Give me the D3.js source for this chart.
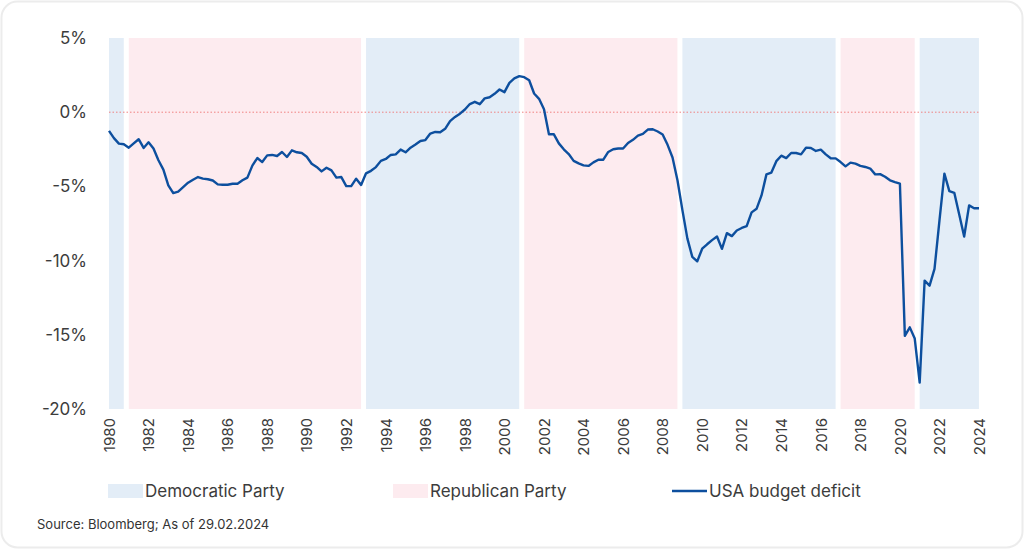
<!DOCTYPE html>
<html>
<head>
<meta charset="utf-8">
<script src="https://cdn.jsdelivr.net/npm/d3@7"></script>
<style>
  body { margin: 0; background: #ffffff; }
  text { font-family: Inter, "Noto Sans", sans-serif; }
</style>
</head>
<body>
<script>
// quarterly budget balance, % of GDP, starting 1980 Q1
let startYear = 1980;
let deficit = [
  -1.26, -1.75, -2.12, -2.16,
  -2.39, -2.10, -1.82, -2.41,
  -2.03, -2.45, -3.24, -3.87,
  -4.93, -5.45, -5.35, -5.05,
  -4.75, -4.55, -4.37, -4.48,
  -4.52, -4.60, -4.86, -4.89,
  -4.89, -4.82, -4.82, -4.59,
  -4.41, -3.60, -3.09, -3.36,
  -2.91, -2.88, -2.95, -2.68,
  -3.02, -2.57, -2.70, -2.75,
  -3.00, -3.47, -3.69, -3.99,
  -3.74, -3.92, -4.41, -4.37,
  -4.98, -4.98, -4.48, -4.90,
  -4.12, -3.95, -3.70, -3.28,
  -3.15, -2.88, -2.84, -2.52,
  -2.70, -2.39, -2.18, -1.94,
  -1.88, -1.44, -1.33, -1.35,
  -1.12, -0.60, -0.32, -0.10,
   0.18,  0.55,  0.70,  0.54,
   0.93,  1.01,  1.24,  1.53,
   1.35,  1.98,  2.28,  2.43,
   2.36,  2.15,  1.26,  0.90,
   0.20, -1.49, -1.49, -2.10,
  -2.50, -2.82, -3.28, -3.45,
  -3.58, -3.62, -3.38, -3.20,
  -3.20, -2.68, -2.50, -2.45,
  -2.45, -2.07, -1.86, -1.58,
  -1.46, -1.17, -1.15, -1.30,
  -1.50, -2.20, -3.05, -4.59,
  -6.60, -8.50, -9.75, -10.05,
  -9.20, -8.90, -8.62, -8.38,
  -9.21, -8.15, -8.35, -7.97,
  -7.80, -7.68, -6.75, -6.51,
  -5.61, -4.19, -4.07, -3.30,
  -2.93, -3.09, -2.75, -2.75,
  -2.84, -2.39, -2.41, -2.61,
  -2.52, -2.84, -3.10, -3.11,
  -3.36, -3.65, -3.40, -3.47,
  -3.62, -3.69, -3.80, -4.19,
  -4.17, -4.35, -4.59, -4.71,
  -4.82, -15.07, -14.50, -15.25,
  -18.22, -11.35, -11.69, -10.56,
  -7.30, -4.14, -5.32, -5.43,
  -6.89, -8.38, -6.28, -6.47,
  -6.47
];

// presidential terms
let termStart = [1980, 1981, 1993, 2001, 2009, 2017, 2021];
let termEnd   = [1981, 1993, 2001, 2009, 2017, 2021, 2024.25];
let termParty = ["D", "R", "D", "R", "D", "R", "D"];

let yTicks = [5, 0, -5, -10, -15, -20];
let xTicks = d3.range(1980, 2025, 2);

let legendLabels = ["Democratic Party", "Republican Party", "USA budget deficit"];
let sourceText = "Source: Bloomberg; As of 29.02.2024";

let width = 1024;
let height = 549;
let margin = ({top: 38, right: 45, bottom: 140, left: 109});

let blue = "#e3edf7";
let pink = "#fdebef";
let lineColor = "#0d4f9e";

let svg = d3.select("body")
  .append("svg")
  .attr("width", width)
  .attr("height", height);

// card
svg.append("rect")
  .attr("x", 1.5).attr("y", 1.5)
  .attr("width", width - 3).attr("height", height - 3)
  .attr("rx", 16)
  .attr("fill", "#fff")
  .attr("stroke", "#ececec")
  .attr("stroke-width", 2);

let x = d3.scaleLinear()
  .domain([1980, 2024])
  .range([margin.left, width - margin.right]);

let y = d3.scaleLinear()
  .domain([-20, 5])
  .range([height - margin.bottom, margin.top]);

// party bands
let gap = 5;
svg.append("g")
  .selectAll("rect")
  .data(termStart)
  .join("rect")
    .attr("x", d => x(d))
    .attr("y", y(5))
    .attr("width", (d, i) => x(termEnd[i]) - x(d) - gap)
    .attr("height", y(-20) - y(5))
    .attr("fill", (d, i) => termParty[i] == "D" ? blue : pink);

// zero line
svg.append("line")
  .attr("x1", x(1980)).attr("x2", x(2024))
  .attr("y1", y(0)).attr("y2", y(0))
  .attr("stroke", "#f08080")
  .attr("stroke-width", 1)
  .attr("stroke-dasharray", "1.5,2");

// y axis
let yAxis = g => g
  .attr("transform", `translate(${margin.left - 19},0)`)
  .call(d3.axisLeft(y).tickValues(yTicks).tickSize(0).tickFormat(d => d + "%"))
  .call(g => g.select(".domain").remove())
  .call(g => g.selectAll("text")
      .attr("fill", "#3c3c3c")
      .attr("font-size", 17)
      .attr("font-family", "Inter, sans-serif"));

svg.append("g").call(yAxis);

// x axis, labels rotated to read bottom-up
let xAxis = g => g
  .attr("transform", `translate(0,${y(-20) + 9})`)
  .call(d3.axisBottom(x).tickValues(xTicks).tickSize(0).tickFormat(d3.format("d")))
  .call(g => g.select(".domain").remove())
  .call(g => g.selectAll("text")
      .attr("fill", "#3c3c3c")
      .attr("font-size", 15)
      .attr("font-family", "Inter, sans-serif")
      .attr("text-anchor", "end")
      .attr("transform", "rotate(-90)")
      .attr("x", 0)
      .attr("y", 0)
      .attr("dy", "0.35em"));

svg.append("g").call(xAxis);

// deficit line
let line = d3.line()
  .x((d, i) => x(startYear + i / 4))
  .y(d => y(d));

svg.append("path")
  .datum(deficit)
  .attr("fill", "none")
  .attr("stroke", lineColor)
  .attr("stroke-width", 2.4)
  .attr("stroke-linejoin", "round")
  .attr("d", line);

// legend
let legendX = [108, 393, 672];
let legendY = 491;
let lg = svg.append("g");

lg.selectAll("rect")
  .data([blue, pink])
  .join("rect")
    .attr("x", (d, i) => legendX[i])
    .attr("y", legendY - 7)
    .attr("width", 35)
    .attr("height", 14)
    .attr("fill", d => d);

lg.append("line")
  .attr("x1", legendX[2]).attr("x2", legendX[2] + 35)
  .attr("y1", legendY).attr("y2", legendY)
  .attr("stroke", lineColor)
  .attr("stroke-width", 2.4);

lg.selectAll("text")
  .data(legendLabels)
  .join("text")
    .attr("x", (d, i) => legendX[i] + 37)
    .attr("y", legendY)
    .attr("dy", "0.35em")
    .attr("font-size", 17)
    .attr("fill", "#3c3c3c")
    .text(d => d);

// source
svg.append("text")
  .attr("x", 37)
  .attr("y", 524)
  .attr("dy", "0.35em")
  .attr("font-size", 13)
  .attr("fill", "#333")
  .text(sourceText);
</script>
</body>
</html>
